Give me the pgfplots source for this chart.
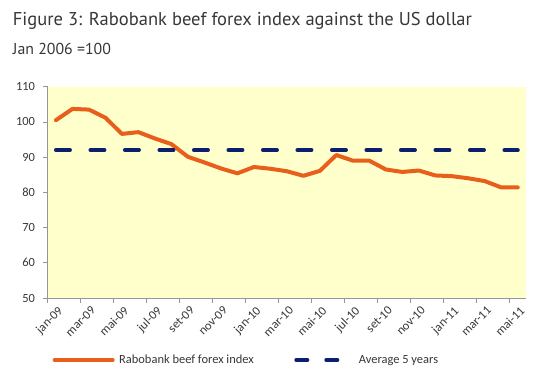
\documentclass[border=0pt]{standalone}
\usepackage{pgfplots}
\pgfplotsset{compat=1.18}
\usepackage{graphicx}
\usepackage{fontspec}
\setmainfont{Carlito}
\newfontfamily\titlefont{PT Sans}
\definecolor{orangeline}{RGB}{232,95,28}
\definecolor{navy}{RGB}{12,30,110}
\definecolor{bgyellow}{RGB}{255,255,204}
\definecolor{axisgray}{RGB}{150,150,150}
\definecolor{txt}{RGB}{55,55,55}
\pgfplotsset{
  orangeleg/.style={legend image code/.code={\draw[##1] (0bp,0bp) -- (58bp,0bp);}},
  navyleg/.style={legend image code/.code={\draw[##1, dash pattern=on 11bp off 19bp] (2bp,0bp) -- (58bp,0bp);}},
}
\begin{document}
\begin{tikzpicture}[x=1bp,y=1bp]
\useasboundingbox (0,0) rectangle (550,-377);
\node[anchor=base west, text=txt, inner sep=0] at (12.7,-25) {\resizebox{459bp}{!}{\titlefont\fontsize{18}{20}\selectfont Figure 3: Rabobank beef forex index against the US dollar}};
\node[anchor=base west, text=txt, inner sep=0] at (12.7,-54) {\resizebox{98bp}{!}{\titlefont\fontsize{15}{17}\selectfont Jan 2006 =100}};
\begin{axis}[
  at={(47.7bp,-298bp)}, anchor=south west,
  scale only axis, width=478.3bp, height=211.3bp,
  xmin=-0.5, xmax=28.5, ymin=50, ymax=110,
  axis background/.style={fill=bgyellow},
  axis x line*=bottom, axis y line*=left,
  axis line style={axisgray, line width=0.8bp},
  ytick={50,60,...,110},
  /pgf/number format/assume math mode=true,
  xtick={0,2,...,28},
  xticklabels={jan-09,mar-09,mai-09,jul-09,set-09,nov-09,jan-10,mar-10,mai-10,jul-10,set-10,nov-10,jan-11,mar-11,mai-11},
  major x tick style={draw=none},
  minor xtick={-0.5,1.5,...,27.5},
  tick align=outside,
  major tick length=4.5bp, minor tick length=4.5bp,
  tick style={axisgray, line width=0.8bp},
  minor tick style={axisgray, line width=0.8bp},
  ticklabel style={font=\fontsize{12.5}{14}\selectfont, text=txt},
  x tick label style={rotate=45, anchor=north east, inner sep=1bp, yshift=-2bp},
  y tick label style={inner sep=2bp, xshift=-6bp},
  legend style={at={(0.418,-0.2935)}, anchor=center, draw=none, fill=none,
    font=\fontsize{12.5}{14}\selectfont, text=txt,
    nodes={inner xsep=4.5bp},
    /tikz/every even column/.append style={column sep=36bp}},
  legend columns=2,
  clip=false,
]
\addplot[orangeline, line width=4bp, line join=round, line cap=round, orangeleg] coordinates {
(0,100.5) (1,103.7) (2,103.5) (3,101.2) (4,96.6) (5,97.1) (6,95.3) (7,93.7)
(8,90.1) (9,88.5) (10,86.8) (11,85.4) (12,87.2) (13,86.7) (14,86.0) (15,84.7)
(16,86.1) (17,90.6) (18,89.0) (19,89.0) (20,86.5) (21,85.8) (22,86.2) (23,84.8)
(24,84.6) (25,84.0) (26,83.2) (27,81.4) (28,81.4)
};
\addlegendentry{Rabobank beef forex index}
\addplot[navy, line width=4bp, line cap=round, dash pattern=on 14bp off 20.5bp, navyleg] coordinates {
(0,92) (28,92)
};
\addlegendentry{Average 5 years}
\end{axis}
\end{tikzpicture}
\end{document}
